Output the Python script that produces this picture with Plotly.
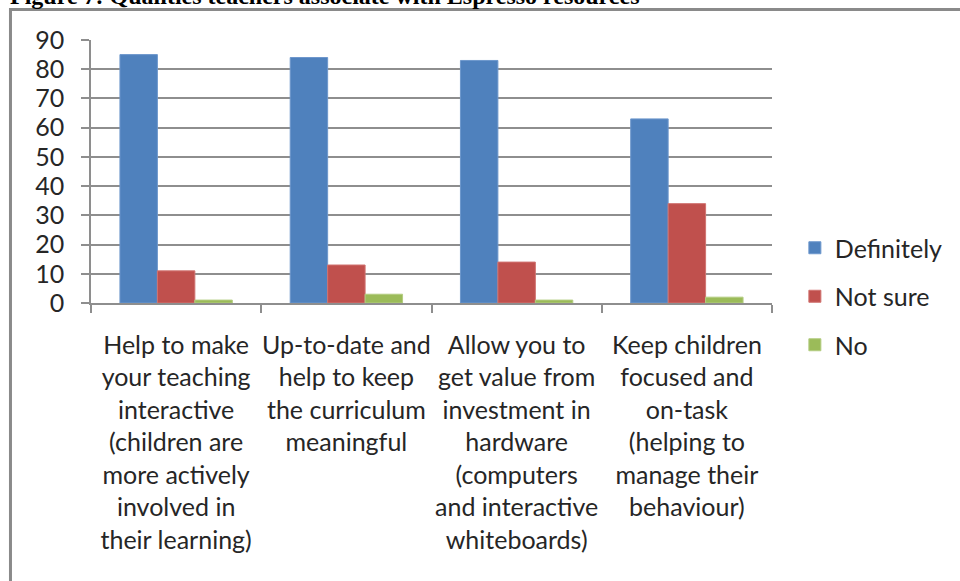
import plotly.graph_objects as go

# Survey categories (multi-line labels) and response percentages
categories = [
    "Help to make<br>your teaching<br>interactive<br>(children are<br>more actively<br>involved in<br>their learning)",
    "Up-to-date and<br>help to keep<br>the curriculum<br>meaningful",
    "Allow you to<br>get value from<br>investment in<br>hardware<br>(computers<br>and interactive<br>whiteboards)",
    "Keep children<br>focused and<br>on-task<br>(helping to<br>manage their<br>behaviour)",
]
definitely = [85, 84, 83, 63]
not_sure = [11, 13, 14, 34]
no = [1, 3, 1, 2]
y_ticks = [0, 10, 20, 30, 40, 50, 60, 70, 80, 90]

title_text = "Figure 7: Qualities teachers associate with Espresso resources"

FONT = "Lato"
TEXT_COLOR = "#262626"
GRID = "#8e8e8e"

series = [
    ("Definitely", definitely, "#4F81BD", "#6d97cc"),
    ("Not sure", not_sure, "#C0504D", "#d07370"),
    ("No", no, "#9BBB59", "#b3cc80"),
]

fig = go.Figure()
for i, (name, vals, color, edge) in enumerate(series):
    fig.add_trace(go.Bar(
        name=name, x=categories, y=vals,
        marker=dict(color=color, line=dict(color=edge, width=1)),
        legendgroup=name,
    ))

W, H = 960, 581
L, R, T, B = 91, 184, 40, 278
pw, ph = W - L - R, H - T - B

def px_x(p):
    return (p - L) / pw

def px_y(p):
    return (H - B - p) / ph

fig.update_layout(
    width=W, height=H,
    margin=dict(l=L, r=R, t=T, b=B),
    paper_bgcolor="white", plot_bgcolor="white",
    barmode="group", bargap=0.34, bargroupgap=0,
    font=dict(family=FONT, size=25, color=TEXT_COLOR),
    showlegend=True,
    legend=dict(
        x=px_x(799), xanchor="left",
        y=px_y(225), yanchor="top",
        font=dict(family=FONT, size=25, color=TEXT_COLOR),
        tracegroupgap=13,
        bgcolor="rgba(0,0,0,0)",
    ),
    xaxis=dict(
        type="category",
        showgrid=False,
        showline=True, linecolor=GRID, linewidth=1.5,
        ticks="outside", tickson="boundaries", ticklen=8,
        tickcolor=GRID, tickwidth=1.5,
        tickfont=dict(family=FONT, size=25, color=TEXT_COLOR),
        tickangle=0,
        ticklabelstandoff=19,
    ),
    yaxis=dict(
        range=[0, 90],
        tickvals=y_ticks,
        showgrid=True, gridcolor=GRID, gridwidth=1.5,
        showline=True, linecolor=GRID, linewidth=1.5,
        ticks="outside", ticklen=8, tickcolor=GRID, tickwidth=1.5,
        tickfont=dict(family=FONT, size=25, color=TEXT_COLOR),
        ticklabelstandoff=12,
        zeroline=False,
    ),
    shapes=[
        # chart-area frame (top and left edges visible)
        dict(type="rect", xref="paper", yref="paper",
             x0=px_x(10), x1=px_x(1000), y0=px_y(640), y1=px_y(9.5),
             line=dict(color="#8a8a8a", width=3), layer="below"),
    ],
    annotations=[
        dict(text="<b>" + title_text + "</b>", xref="paper", yref="paper",
             x=px_x(8), y=1, xanchor="left", yanchor="bottom",
             yshift=29, showarrow=False,
             font=dict(family="Liberation Serif", size=24, color="black")),
    ],
)

fig.write_html("out.html")
